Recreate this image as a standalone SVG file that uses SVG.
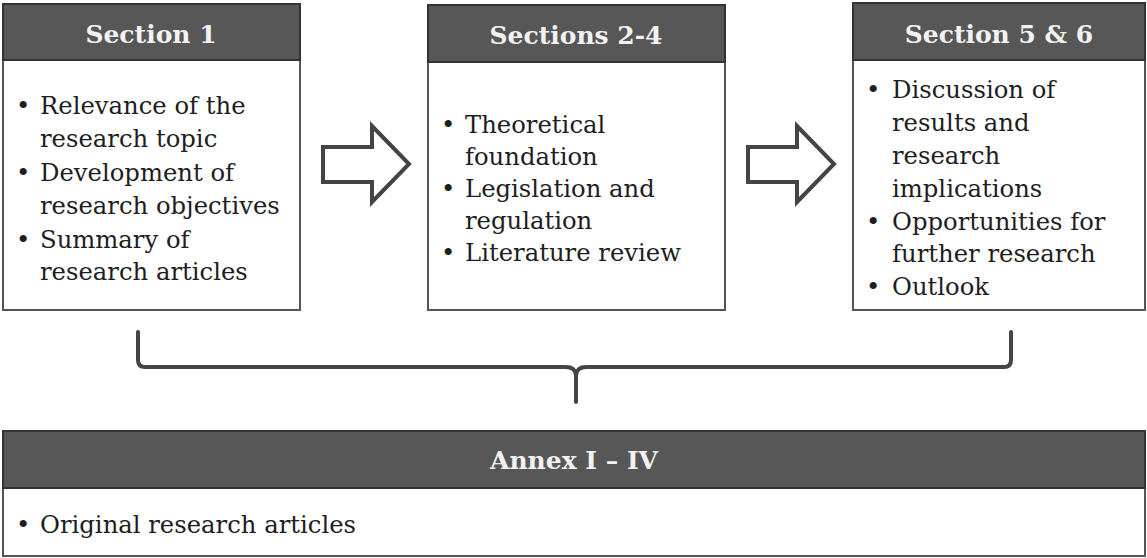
<svg xmlns="http://www.w3.org/2000/svg" width="1147" height="558" viewBox="0 0 1147 558">
  <style>
    .hdr { fill: #575757; stroke: #333; stroke-width: 2; }
    .body { fill: #fff; stroke: #555; stroke-width: 2; }
    .ht { font-family: "DejaVu Serif", "Liberation Serif", serif; font-weight: bold; font-size: 25px; fill: #f2f2f2; text-anchor: middle; }
    .bt { font-family: "DejaVu Serif", "Liberation Serif", serif; font-size: 24.3px; fill: #1e1e1e; }
    .blk { fill: #fff; stroke: #444; stroke-width: 4; stroke-linejoin: miter; }
    .brace { fill: none; stroke: #444; stroke-width: 4; stroke-linejoin: round; stroke-linecap: round; }
  </style>
  <rect width="1147" height="558" fill="#fff"/>

  <g id="section1">
    <rect class="body" x="3" y="60" width="297" height="250"/>
    <rect class="hdr" x="3" y="4" width="297" height="56"/>
    <text class="ht" x="151" y="43">Section 1</text>
    <text class="bt" x="16" y="114">•</text><text class="bt" x="40" y="114">Relevance of the</text>
    <text class="bt" x="40" y="147">research topic</text>
    <text class="bt" x="16" y="181">•</text><text class="bt" x="40" y="181">Development of</text>
    <text class="bt" x="40" y="214">research objectives</text>
    <text class="bt" x="16" y="248">•</text><text class="bt" x="40" y="248">Summary of</text>
    <text class="bt" x="40" y="280">research articles</text>
  </g>

  <g id="sections2-4">
    <rect class="body" x="428" y="62" width="297" height="248"/>
    <rect class="hdr" x="428" y="5" width="297" height="57"/>
    <text class="ht" x="576" y="44">Sections 2-4</text>
    <text class="bt" x="441" y="133">•</text><text class="bt" x="465" y="133">Theoretical</text>
    <text class="bt" x="465" y="165">foundation</text>
    <text class="bt" x="441" y="197">•</text><text class="bt" x="465" y="197">Legislation and</text>
    <text class="bt" x="465" y="229">regulation</text>
    <text class="bt" x="441" y="261">•</text><text class="bt" x="465" y="261">Literature review</text>
  </g>

  <g id="section5-6">
    <rect class="body" x="853" y="60" width="292" height="250"/>
    <rect class="hdr" x="853" y="3" width="292" height="57"/>
    <text class="ht" x="999" y="43">Section 5 &amp; 6</text>
    <text class="bt" x="866" y="98">•</text><text class="bt" x="892" y="98">Discussion of</text>
    <text class="bt" x="892" y="131">results and</text>
    <text class="bt" x="892" y="164">research</text>
    <text class="bt" x="892" y="197">implications</text>
    <text class="bt" x="866" y="230">•</text><text class="bt" x="892" y="230">Opportunities for</text>
    <text class="bt" x="892" y="262">further research</text>
    <text class="bt" x="866" y="295">•</text><text class="bt" x="892" y="295">Outlook</text>
  </g>

  <g id="annex">
    <rect class="body" x="3" y="488" width="1142" height="68"/>
    <rect class="hdr" x="3" y="431" width="1142" height="57"/>
    <text class="ht" x="574" y="469">Annex I – IV</text>
    <text class="bt" x="16" y="533">•</text><text class="bt" x="40" y="533">Original research articles</text>
  </g>

  <g id="connectors">
    <path class="blk" d="M323 147 H372 V126 L409 164 L372 202 V182 H323 Z"/>
    <path class="blk" d="M748 147 H797 V126 L834 164 L797 202 V182 H748 Z"/>
    <path class="brace" d="M138 332 V360 Q138 367 145 367 H566 Q575 367 576 375 V402 M576 375 Q577 367 586 367 H1004 Q1011 367 1011 360 V332"/>
  </g>
</svg>
